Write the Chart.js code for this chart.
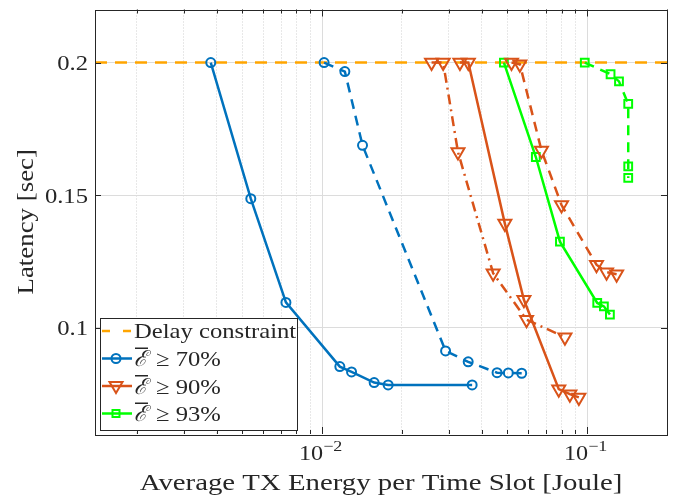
<!DOCTYPE html>
<html>
<head>
<meta charset="utf-8">
<script src="https://cdn.jsdelivr.net/npm/chart.js@4.4.0/dist/chart.umd.min.js"></script>
<style>
  html, body { margin: 0; padding: 0; background: #fff; }
  canvas { display: block; }
</style>
</head>
<body>
<canvas id="myChart" width="684" height="500"></canvas>
<script>
// axis ranges and ticks
const xRange = [0.00139, 0.2];
const yRange = [0.06, 0.22];
const xMajorTicks = [0.01, 0.1];
const xTickExponents = ['\u22122', '\u22121'];
const yTicks = [0.1, 0.15, 0.2];
const yTickLabels = ['0.1', '0.15', '0.2'];

// delay constraint
const delayLimit = 0.2;

// E >= 70%
const energy70a = [0.0038, 0.00538, 0.0073, 0.01166, 0.01291, 0.01571, 0.01774, 0.0368];
const latency70a = [0.2, 0.1487, 0.1096, 0.0854, 0.0834, 0.0794, 0.0785, 0.0785];
const energy70b = [0.01017, 0.01218, 0.0142, 0.02922, 0.03556, 0.0457, 0.0504, 0.0566];
const latency70b = [0.2, 0.1966, 0.1688, 0.0913, 0.0872, 0.0831, 0.0830, 0.0829];

// E >= 90%
const energy90a = [0.0331, 0.0356, 0.0489, 0.0577, 0.0781, 0.0860, 0.0930];
const latency90a = [0.2, 0.2, 0.1393, 0.1106, 0.0769, 0.0750, 0.0738];
const energy90b = [0.02587, 0.02861, 0.03254, 0.04417, 0.05904, 0.0824];
const latency90b = [0.2, 0.2, 0.1663, 0.1206, 0.1031, 0.0965];
const energy90c = [0.0518, 0.0557, 0.0672, 0.0800, 0.1084, 0.1183, 0.1291];
const latency90c = [0.2, 0.1994, 0.1669, 0.1463, 0.1238, 0.1210, 0.1202];

// E >= 93%
const energy93a = [0.0485, 0.0640, 0.0789, 0.1091, 0.1156, 0.1218];
const latency93a = [0.2, 0.1644, 0.1325, 0.1094, 0.1081, 0.1050];
const energy93b = [0.0979, 0.1225, 0.1318, 0.1428, 0.1428, 0.1428];
const latency93b = [0.2, 0.1956, 0.1929, 0.1844, 0.1609, 0.1565];

const BLUE = '#0072BD';
const ORANGE = '#D95319';
const GREEN = '#00FF00';
const LIMIT = '#FFA500';
const AXIS = '#262626';
const SERIF = '"Liberation Serif", "DejaVu Serif", serif';

function pts(xs, ys) {
  return xs.map(function(v, i) { return { x: v, y: ys[i] }; });
}

function series(xs, ys, color, dash, marker, radius) {
  return {
    data: pts(xs, ys),
    borderColor: color,
    borderWidth: 2.5,
    borderDash: dash,
    pointStyle: marker === 'tri' ? 'triangle' : marker,
    pointRotation: marker === 'tri' ? 180 : 0,
    pointRadius: radius,
    pointBorderWidth: 2,
    pointBorderColor: color,
    pointBackgroundColor: 'rgba(0,0,0,0)',
    fill: false,
    tension: 0,
    order: 1
  };
}

// ticks on the log axis: 2..9 between decades
function isMajor(v) {
  return xMajorTicks.some(function(m) { return Math.abs(m - v) / m < 1e-6; });
}
const xAllTicks = [];
for (let d = 0.001; d < xRange[1]; d *= 10) {
  for (let k = 1; k <= 9; k++) {
    const v = +(d * k).toPrecision(3);
    if (v >= xRange[0] && v <= xRange[1]) xAllTicks.push(v);
  }
}

const legendItems = [
  { text: 'Delay constraint', color: LIMIT, dash: [8, 13], marker: null },
  { pct: '70%', color: BLUE, dash: [], marker: 'circle' },
  { pct: '90%', color: ORANGE, dash: [], marker: 'tri' },
  { pct: '93%', color: GREEN, dash: [], marker: 'rect' }
];

// text widened a bit to look like the LaTeX font
function wideText(ctx, text, x, y, sx, align) {
  ctx.save();
  ctx.translate(x, y);
  ctx.scale(sx, 1);
  ctx.textAlign = align;
  ctx.fillText(text, 0, 0);
  ctx.restore();
  return ctx.measureText(text).width * sx;
}

function drawMarker(ctx, type, x, y, color) {
  ctx.save();
  ctx.strokeStyle = color;
  ctx.lineWidth = 2;
  ctx.setLineDash([]);
  ctx.beginPath();
  if (type === 'circle') {
    ctx.arc(x, y, 4.5, 0, Math.PI * 2);
  } else if (type === 'tri') {
    ctx.moveTo(x - 6.5, y - 4);
    ctx.lineTo(x + 6.5, y - 4);
    ctx.lineTo(x, y + 7);
    ctx.closePath();
  } else if (type === 'rect') {
    ctx.rect(x - 3.5, y - 3.5, 7, 7);
  }
  ctx.stroke();
  ctx.restore();
}

const matlabAxes = {
  id: 'matlabAxes',
  afterDraw(chart) {
    const ctx = chart.ctx;
    const a = chart.chartArea;
    const xs = chart.scales.x;
    const ys = chart.scales.y;
    ctx.save();

    // box
    ctx.strokeStyle = AXIS;
    ctx.lineWidth = 1;
    ctx.setLineDash([]);
    ctx.strokeRect(Math.round(a.left) + 0.5, Math.round(a.top) + 0.5, Math.round(a.width), Math.round(a.height));

    // ticks inside the box
    ctx.beginPath();
    xAllTicks.forEach(function(v) {
      const px = Math.round(xs.getPixelForValue(v)) + 0.5;
      const len = isMajor(v) ? 7 : 4;
      ctx.moveTo(px, a.bottom); ctx.lineTo(px, a.bottom - len);
      ctx.moveTo(px, a.top); ctx.lineTo(px, a.top + len);
    });
    yTicks.forEach(function(v) {
      const py = Math.round(ys.getPixelForValue(v)) + 0.5;
      ctx.moveTo(a.left, py); ctx.lineTo(a.left + 6, py);
      ctx.moveTo(a.right, py); ctx.lineTo(a.right - 6, py);
    });
    ctx.stroke();

    ctx.fillStyle = AXIS;
    ctx.textBaseline = 'alphabetic';

    // y tick labels
    ctx.font = '22px ' + SERIF;
    yTicks.forEach(function(v, i) {
      wideText(ctx, yTickLabels[i], 88, ys.getPixelForValue(v) + 7.5, 1.12, 'right');
    });

    // x tick labels 10^k
    xMajorTicks.forEach(function(v, i) {
      const px = xs.getPixelForValue(v);
      ctx.font = '22px ' + SERIF;
      wideText(ctx, '10', px + 1, 460, 1.1, 'right');
      ctx.font = '15px ' + SERIF;
      wideText(ctx, xTickExponents[i], px + 1, 451, 1.2, 'left');
    });

    // axis titles
    ctx.font = '24px ' + SERIF;
    wideText(ctx, 'Average TX Energy per Time Slot [Joule]', (a.left + a.right) / 2, 490, 1.2, 'center');
    ctx.save();
    ctx.translate(33, (a.top + a.bottom) / 2);
    ctx.rotate(-Math.PI / 2);
    wideText(ctx, 'Latency [sec]', 0, 0, 1.12, 'center');
    ctx.restore();

    // legend
    const lx = 100, ly = 318, lw = 197, lh = 112;
    ctx.fillStyle = '#fff';
    ctx.fillRect(lx, ly, lw, lh);
    ctx.strokeStyle = AXIS;
    ctx.lineWidth = 1;
    ctx.strokeRect(lx + 0.5, ly + 0.5, lw, lh);
    legendItems.forEach(function(it, i) {
      const cy = ly + 13 + i * 27.5;
      ctx.save();
      ctx.strokeStyle = it.color;
      ctx.lineWidth = 2.5;
      ctx.setLineDash(it.dash);
      ctx.beginPath();
      ctx.moveTo(102, cy); ctx.lineTo(132, cy);
      ctx.stroke();
      ctx.restore();
      if (it.marker) drawMarker(ctx, it.marker, 116, cy, it.color);
      ctx.fillStyle = AXIS;
      ctx.textBaseline = 'middle';
      if (it.text) {
        ctx.font = '22px ' + SERIF;
        wideText(ctx, it.text, 134, cy + 1, 1.12, 'left');
      } else {
        ctx.font = 'italic 22px ' + SERIF;
        const w = wideText(ctx, '\u2130', 134, cy + 2, 1.0, 'left');
        ctx.fillRect(135, cy - 11, w, 1.5);
        ctx.font = '22px ' + SERIF;
        wideText(ctx, '\u2265 ' + it.pct, 134 + w + 9, cy + 2, 1.12, 'left');
      }
    });

    ctx.restore();
  }
};

const ctx = document.getElementById('myChart').getContext('2d');

const chart = new Chart(ctx, {
  type: 'line',
  data: {
    datasets: [
      {
        data: pts(xRange, [delayLimit, delayLimit]),
        borderColor: LIMIT,
        borderWidth: 2.5,
        borderDash: [12, 8],
        pointRadius: 0,
        fill: false,
        order: 10
      },
      series(energy70a, latency70a, BLUE, [], 'circle', 4.5),
      series(energy70b, latency70b, BLUE, [10, 7], 'circle', 4.5),
      series(energy90a, latency90a, ORANGE, [], 'tri', 7.5),
      series(energy90b, latency90b, ORANGE, [10, 5, 2, 5], 'tri', 7.5),
      series(energy90c, latency90c, ORANGE, [10, 7], 'tri', 7.5),
      series(energy93a, latency93a, GREEN, [], 'rect', 5.5),
      series(energy93b, latency93b, GREEN, [10, 7], 'rect', 5.5)
    ]
  },
  options: {
    responsive: false,
    animation: false,
    devicePixelRatio: 1,
    layout: { padding: { left: 0, right: 17, top: 6, bottom: 0 } },
    plugins: { legend: { display: false }, tooltip: { enabled: false } },
    scales: {
      x: {
        type: 'logarithmic',
        min: xRange[0],
        max: xRange[1],
        afterBuildTicks: function(scale) {
          scale.ticks = xAllTicks.map(function(v) { return { value: v, major: isMajor(v) }; });
        },
        afterFit: function(scale) {
          scale.height = 66;
          scale.paddingLeft = 0; scale.paddingRight = 0;
        },
        ticks: { display: false },
        border: {
          display: false,
          dash: function(c) { return c.tick && !isMajor(c.tick.value) ? [1, 2] : []; }
        },
        grid: {
          drawTicks: false,
          color: function(c) { return c.tick && isMajor(c.tick.value) ? '#dcdcdc' : '#d0d0d0'; },
          lineWidth: 1
        }
      },
      y: {
        type: 'linear',
        min: yRange[0],
        max: yRange[1],
        afterBuildTicks: function(scale) {
          scale.ticks = yTicks.map(function(v) { return { value: v }; });
        },
        afterFit: function(scale) {
          scale.width = 95;
          scale.paddingTop = 0; scale.paddingBottom = 0;
        },
        ticks: { display: false },
        border: { display: false },
        grid: { drawTicks: false, color: '#dcdcdc', lineWidth: 1 }
      }
    }
  },
  plugins: [matlabAxes]
});
</script>
</body>
</html>
